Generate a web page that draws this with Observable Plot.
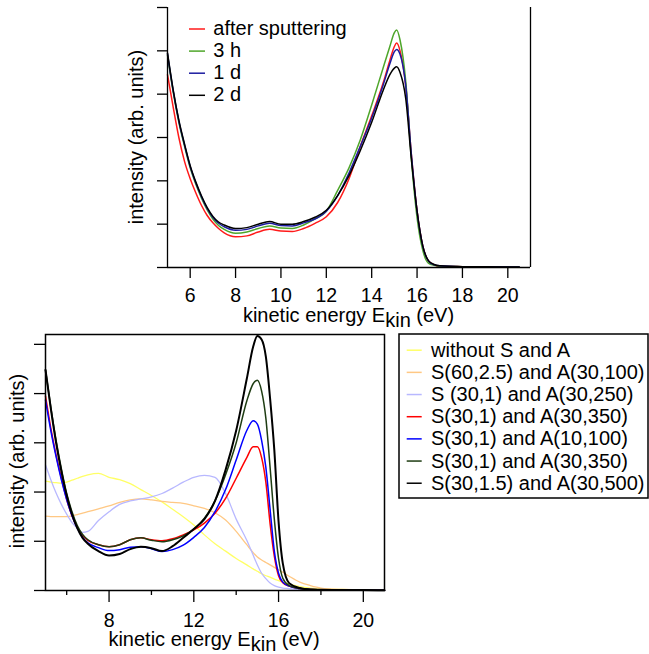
<!DOCTYPE html>
<html><head><meta charset="utf-8">
<script src="https://cdn.jsdelivr.net/npm/d3@7"></script>
<script src="https://cdn.jsdelivr.net/npm/@observablehq/plot@0.6"></script>
<style>
html,body{margin:0;padding:0;background:#fff;}
#wrap{position:relative;width:649px;height:654px;overflow:hidden;font-family:"Liberation Sans",Arial,sans-serif;}
#top,#bot{position:absolute;left:0;}
#top{top:0;} #bot{top:320px;}
</style></head><body><div id="wrap"><div id="top"></div><div id="bot"></div></div>
<script>
// ---------- top chart data ----------
const topE = [5.0,5.25,5.5,5.75,6.0,6.25,6.5,6.75,7.0,7.25,7.5,8.0,8.5,9.0,9.5,10.0,10.5,11.0,11.5,12.0,12.5,13.0,13.5,14.0,14.5,14.8,15.0,15.1,15.25,15.5,15.75,16.0,16.25,16.5,16.75,17.0,18.0,19.0,20.5];
const topRed   = [4.45,3.7,3.0,2.45,2.05,1.72,1.43,1.2,1.03,0.9,0.8,0.71,0.73,0.82,0.88,0.84,0.83,0.9,1.02,1.17,1.5,2.05,2.8,3.5,4.25,4.78,5.1,5.18,5.0,4.2,2.6,1.3,0.5,0.15,0.06,0.03,0.02,0.015,0.01];
const topGreen = [4.9,4.05,3.35,2.8,2.3,1.92,1.6,1.33,1.12,0.97,0.88,0.79,0.82,0.9,0.96,0.91,0.9,0.98,1.12,1.3,1.78,2.3,2.95,3.75,4.6,5.1,5.42,5.48,5.25,4.3,2.5,1.15,0.4,0.1,0.05,0.03,0.02,0.015,0.01];
const topBlue  = [4.93,4.08,3.38,2.83,2.33,1.95,1.63,1.36,1.16,1.02,0.94,0.86,0.88,0.96,1.02,0.97,0.96,1.03,1.12,1.3,1.66,2.18,2.8,3.45,4.2,4.7,4.98,5.03,4.92,4.2,2.6,1.3,0.5,0.15,0.06,0.04,0.02,0.015,0.01];
const topBlack = [4.95,4.1,3.4,2.85,2.35,1.97,1.65,1.38,1.18,1.05,0.98,0.9,0.92,1.0,1.06,1.0,1.0,1.06,1.16,1.32,1.66,2.12,2.7,3.35,4.08,4.45,4.6,4.63,4.5,3.9,2.5,1.3,0.5,0.16,0.07,0.04,0.02,0.015,0.01];
const topLabels = ["after sputtering","3 h","1 d","2 d"];
const topColors = ["#ff1a1a","#4ea62a","#1c1ca0","#000000"];
const topXTicks = [6,8,10,12,14,16,18,20];
const topYTicks = [0,1,2,3,4,5,6];

// ---------- bottom chart data ----------
const botE = [5.0,5.25,5.5,5.75,6.0,6.25,6.5,6.75,7.0,7.5,8.0,8.5,9.0,9.5,10.0,10.5,11.0,11.5,12.0,12.5,13.0,13.5,14.0,14.5,14.8,15.0,15.2,15.4,15.6,15.8,16.0,16.2,16.5,17.0,17.5,18.0,19.0,20.0,21.0];
const botYellow   = [2.22,2.2,2.19,2.18,2.2,2.24,2.28,2.32,2.35,2.38,2.3,2.25,2.17,2.05,1.93,1.8,1.65,1.5,1.33,1.13,0.95,0.8,0.65,0.52,0.44,0.39,0.34,0.3,0.27,0.23,0.2,0.17,0.13,0.08,0.05,0.03,0.02,0.01,0.01];
const botOrange   = [1.51,1.5,1.5,1.5,1.5,1.52,1.54,1.57,1.6,1.66,1.72,1.79,1.84,1.86,1.84,1.81,1.79,1.77,1.72,1.67,1.58,1.43,1.2,0.93,0.77,0.68,0.62,0.57,0.52,0.47,0.42,0.37,0.29,0.17,0.1,0.05,0.02,0.01,0.01];
const botLavender = [2.55,2.25,1.98,1.75,1.55,1.38,1.27,1.18,1.2,1.42,1.6,1.75,1.82,1.86,1.9,1.97,2.08,2.2,2.3,2.34,2.3,1.97,1.45,1.02,0.72,0.52,0.35,0.24,0.15,0.1,0.07,0.05,0.04,0.02,0.015,0.01,0.01,0.01,0.005];
const botRed      = [3.95,3.3,2.75,2.28,1.85,1.52,1.28,1.12,1.02,0.93,0.89,0.93,1.03,1.07,1.03,1.01,1.05,1.13,1.23,1.37,1.57,1.87,2.28,2.7,2.92,2.92,2.7,2.2,1.36,0.7,0.3,0.16,0.09,0.04,0.02,0.015,0.01,0.01,0.005];
const botBlue     = [3.87,3.25,2.72,2.25,1.85,1.52,1.27,1.08,0.97,0.87,0.81,0.83,0.88,0.89,0.85,0.79,0.83,0.92,1.08,1.28,1.6,2.05,2.65,3.25,3.45,3.38,3.05,2.5,1.65,0.8,0.35,0.17,0.09,0.04,0.02,0.015,0.01,0.01,0.005];
const botDkGreen  = [4.48,3.72,3.05,2.47,1.97,1.6,1.32,1.14,1.03,0.93,0.89,0.93,1.03,1.07,1.02,0.99,1.03,1.11,1.25,1.47,1.82,2.35,3.0,3.85,4.2,4.27,4.05,3.5,2.5,1.45,0.65,0.25,0.1,0.04,0.02,0.015,0.01,0.01,0.005];
const botBlack    = [4.48,3.7,3.0,2.42,1.93,1.55,1.27,1.07,0.95,0.8,0.71,0.74,0.84,0.89,0.86,0.8,0.9,1.07,1.25,1.45,1.82,2.45,3.25,4.3,4.95,5.17,5.1,4.75,3.9,2.85,1.4,0.55,0.15,0.05,0.02,0.015,0.01,0.01,0.005];
const botLabels = ["without S and A","S(60,2.5) and A(30,100)","S (30,1) and A(30,250)","S(30,1) and A(30,350)","S(30,1) and A(10,100)","S(30,1) and A(30,350)","S(30,1.5) and A(30,500)"];
const botColors = ["#ffff66","#ffc884","#b8b8ff","#ff0000","#0000ff","#1e3c12","#000000"];
const botMajorTicks = [8,12,16,20];
const botMinorTicks = [6,10,14,18];
const botYTicks = [0,1,2,3,4,5];

const FONT = "'Liberation Sans', Arial, sans-serif";
const rows = (E, vals) => E.map((x, i) => ({x, y: vals[i]}));

// ---------- top chart ----------
const topSeries = [topRed, topGreen, topBlue, topBlack];
const topPlot = Plot.plot({
  width: 649, height: 330,
  marginLeft: 167, marginRight: 119, marginTop: 7, marginBottom: 63,
  x: {domain: [5, 21], label: null},
  y: {domain: [0, 6], label: null},
  style: {fontSize: "20px", fontFamily: FONT, background: "transparent", overflow: "visible", color: "#000"},
  marks: [
    ...topSeries.map((s, i) => Plot.line(rows(topE, s), {x: "x", y: "y", stroke: topColors[i], strokeWidth: 1.5, curve: "monotone-x"})),
    Plot.ruleY([0], {stroke: "#000", strokeWidth: 1.3}),
    Plot.ruleX([5, 21], {stroke: "#000", strokeWidth: 1.3}),
    Plot.axisX({ticks: topXTicks, tickSize: 11, tickPadding: 10, label: null, fontSize: 19.5, strokeWidth: 1.3}),
    Plot.axisY({ticks: topYTicks, tickSize: 10, tickFormat: () => "", label: null, strokeWidth: 1.3})
  ]
});
document.getElementById("top").appendChild(topPlot);
{
  const svg = d3.select(topPlot);
  const g = svg.append("g").style("font-family", FONT).style("font-size", "20px").attr("fill", "#000").attr("text-anchor", "start");
  const t = g.append("text").attr("x", 348.5).attr("y", 322).attr("text-anchor", "middle").style("white-space", "pre");
  t.append("tspan").text("kinetic energy E");
  t.append("tspan").attr("dy", 5).text("kin");
  t.append("tspan").attr("dy", -5).text(" (eV)");
  g.append("text").attr("transform", "translate(143,137) rotate(-90)").attr("text-anchor", "middle").text("intensity (arb. units)");
  topLabels.forEach((lab, i) => {
    const b = 35 + i * 22.1;
    g.append("line").attr("x1", 189).attr("x2", 205).attr("y1", b - 6).attr("y2", b - 6).attr("stroke", topColors[i]).attr("stroke-width", 1.5);
    g.append("text").attr("x", 213.3).attr("y", b).attr("text-anchor", "start").text(lab);
  });
}

// ---------- bottom chart ----------
const botSeries = [botYellow, botOrange, botLavender, botRed, botBlue, botDkGreen, botBlack];
const botWidths = [1.3, 1.3, 1.3, 1.5, 1.5, 1.5, 2];
const botPlot = Plot.plot({
  width: 649, height: 334,
  marginLeft: 45, marginRight: 265, marginTop: 14, marginBottom: 64,
  x: {domain: [5, 21], label: null},
  y: {domain: [0, 5.2], label: null},
  style: {fontSize: "20px", fontFamily: FONT, background: "transparent", overflow: "visible", color: "#000"},
  marks: [
    ...botSeries.map((s, i) => Plot.line(rows(botE, s), {x: "x", y: "y", stroke: botColors[i], strokeWidth: botWidths[i], curve: "monotone-x"})),
    Plot.frame({stroke: "#000", strokeWidth: 1.5}),
    Plot.axisX({ticks: botMajorTicks, tickSize: 12, tickPadding: 11, label: null, fontSize: 19.5, strokeWidth: 1.3}),
    Plot.axisX({ticks: botMinorTicks, tickSize: 5, tickFormat: () => "", label: null, strokeWidth: 1.3}),
    Plot.axisY({ticks: botYTicks, tickSize: 11, tickFormat: () => "", label: null, strokeWidth: 1.3})
  ]
});
document.getElementById("bot").appendChild(botPlot);
{
  const svg = d3.select(botPlot);
  const g = svg.append("g").style("font-family", FONT).style("font-size", "20px").attr("fill", "#000").attr("text-anchor", "start");
  const t = g.append("text").attr("x", 214).attr("y", 326).attr("text-anchor", "middle").style("white-space", "pre");
  t.append("tspan").text("kinetic energy E");
  t.append("tspan").attr("dy", 5).text("kin");
  t.append("tspan").attr("dy", -5).text(" (eV)");
  g.append("text").attr("transform", "translate(24,141) rotate(-90)").attr("text-anchor", "middle").text("intensity (arb. units)");
  g.append("rect").attr("x", 399).attr("y", 14).attr("width", 249).attr("height", 164).attr("fill", "#fff").attr("stroke", "#000").attr("stroke-width", 1.5);
  botLabels.forEach((lab, i) => {
    const b = 36.7 + i * 22.17;
    g.append("line").attr("x1", 406.7).attr("x2", 421.7).attr("y1", b - 6.5).attr("y2", b - 6.5).attr("stroke", botColors[i]).attr("stroke-width", 1.5);
    g.append("text").attr("x", 431).attr("y", b).attr("text-anchor", "start").text(lab);
  });
}
</script></body></html>
